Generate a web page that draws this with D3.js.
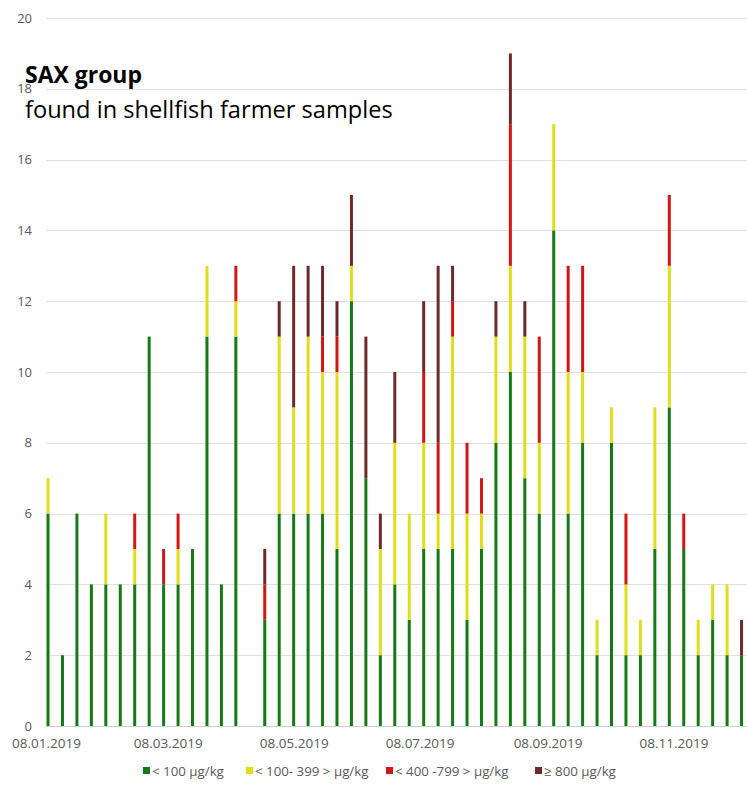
<!DOCTYPE html>
<html>
<head>
<meta charset="utf-8">
<script src="https://cdn.jsdelivr.net/npm/d3@7"></script>
<style>
  html, body { margin: 0; padding: 0; background: #fff; }
  svg { display: block; }
  text { font-family: "Open Sans", "Liberation Sans", sans-serif; }
</style>
</head>
<body>
<div id="chart"></div>
<script>
// Sampling dates (weekly, no sample in the week of 16.04.2019)
const sampleDates = [
  "2019-01-08","2019-01-15","2019-01-22","2019-01-29","2019-02-05","2019-02-12",
  "2019-02-19","2019-02-26","2019-03-05","2019-03-12","2019-03-19","2019-03-26",
  "2019-04-02","2019-04-09","2019-04-23","2019-04-30","2019-05-07","2019-05-14",
  "2019-05-21","2019-05-28","2019-06-04","2019-06-11","2019-06-18","2019-06-25",
  "2019-07-02","2019-07-09","2019-07-16","2019-07-23","2019-07-30","2019-08-06",
  "2019-08-13","2019-08-20","2019-08-27","2019-09-03","2019-09-10","2019-09-17",
  "2019-09-24","2019-10-01","2019-10-08","2019-10-15","2019-10-22","2019-10-29",
  "2019-11-05","2019-11-12","2019-11-19","2019-11-26","2019-12-03","2019-12-10"
];

// Number of samples per SAX concentration class
const below100 = [6,2,6,4,4,4,4,11,4,4,5,11,4,11,3,6,6,6,6,5,12,7,2,4,3,5,5,5,3,5,8,10,7,6,14,6,8,2,8,2,2,5,9,5,2,3,2,2];
const from100to399 = [1,0,0,0,2,0,1,0,0,1,0,2,0,1,0,5,3,5,4,5,1,0,3,4,3,3,1,6,3,1,3,3,4,2,3,4,2,1,1,2,1,4,4,0,1,1,2,0];
const from400to799 = [0,0,0,0,0,0,1,0,1,1,0,0,0,1,1,0,0,0,1,1,0,0,0,0,0,2,2,1,2,1,0,4,0,3,0,3,3,0,0,2,0,0,2,1,0,0,0,0];
const atLeast800 = [0,0,0,0,0,0,0,0,0,0,0,0,0,0,1,1,4,2,2,1,2,4,1,2,0,2,5,1,0,0,1,2,1,0,0,0,0,0,0,0,0,0,0,0,0,0,0,1];

const seriesNames = ["< 100 µg/kg", "< 100- 399 > µg/kg", "< 400 -799 > µg/kg", "≥ 800 µg/kg"];
const seriesColors = ["#157a15", "#dede1a", "#d21515", "#6e2a2a"];

const yTicks = [0, 2, 4, 6, 8, 10, 12, 14, 16, 18, 20];
const xTickDates = ["2019-01-08","2019-03-08","2019-05-08","2019-07-08","2019-09-08","2019-11-08"];

const titleText = "SAX group";
const subtitleText = "found in shellfish farmer samples";

const W = 747, H = 792;
const parse = d3.timeParse("%Y-%m-%d");
const fmt = d3.timeFormat("%d.%m.%Y");

const rows = sampleDates.map((d, i) => ({
  date: parse(d),
  s0: below100[i], s1: from100to399[i], s2: from400to799[i], s3: atLeast800[i]
}));
const keys = ["s0", "s1", "s2", "s3"];
const stacked = d3.stack().keys(keys)(rows);

const svg = d3.select("#chart").append("svg").attr("width", W).attr("height", H);

const plot = { left: 46, right: 747, top: 18, bottom: 726 };

const x = d3.scaleTime()
  .domain([parse("2019-01-08"), parse("2019-12-13")])
  .range([47, 746.7]);
const y = d3.scaleLinear().domain([0, 20]).range([plot.bottom, plot.top]);

// gridlines
svg.append("g")
  .selectAll("line")
  .data(yTicks)
  .join("line")
  .attr("x1", plot.left).attr("x2", plot.right)
  .attr("y1", d => Math.round(y(d)) + 0.5).attr("y2", d => Math.round(y(d)) + 0.5)
  .attr("stroke", d => d === 0 ? "#d0d0d0" : "#e0e0e0")
  .attr("stroke-width", 1);

// y-axis labels
const yAxis = d3.axisLeft(y).tickValues(yTicks).tickSize(0).tickPadding(0);
const gy = svg.append("g").attr("transform", "translate(32,0)").call(yAxis);
gy.select(".domain").remove();
gy.selectAll("text").attr("fill", "#595959").style("font-size", "13px")
  .style("font-family", "'Open Sans', sans-serif");

// x-axis labels
const xAxis = d3.axisBottom(x).tickValues(xTickDates.map(parse)).tickFormat(fmt).tickSize(0).tickPadding(0);
const gx = svg.append("g").attr("transform", `translate(-1,${plot.bottom + 12})`).call(xAxis);
gx.select(".domain").remove();
gx.selectAll("text").attr("fill", "#595959").style("font-size", "13.5px")
  .style("font-family", "'Open Sans', sans-serif");

// bars
const halfDay = 12 * 3600 * 1000;
const barW = 3;
svg.append("g")
  .selectAll("g")
  .data(stacked)
  .join("g")
  .attr("fill", (d, i) => seriesColors[i])
  .selectAll("rect")
  .data(d => d.filter(p => p[1] > p[0]))
  .join("rect")
  .attr("x", d => x(new Date(d.data.date.getTime() + halfDay)) - barW / 2)
  .attr("width", barW)
  .attr("y", d => y(d[1]))
  .attr("height", d => y(d[0]) - y(d[1]));

// title
function fitText(sel, targetWidth) {
  const fs = parseFloat(sel.style("font-size"));
  const w = sel.node().getComputedTextLength();
  sel.style("font-size", (fs * targetWidth / w) + "px");
}
const t1 = svg.append("text").attr("x", 25).attr("y", 83)
  .attr("fill", "#000").style("font-weight", "bold").style("font-size", "24px").text(titleText);
fitText(t1, 117);
const t2 = svg.append("text").attr("x", 25).attr("y", 118)
  .attr("fill", "#000").style("font-size", "24px").text(subtitleText);
fitText(t2, 368);

// legend
const legendX = [143, 246, 386, 535];
const lg = svg.append("g");
seriesNames.forEach((name, i) => {
  lg.append("rect").attr("x", legendX[i]).attr("y", 767).attr("width", 7).attr("height", 7)
    .attr("fill", seriesColors[i]);
  lg.append("text").attr("x", legendX[i] + 9).attr("y", 775.5)
    .attr("fill", "#595959").style("font-size", "13.3px").text(name);
});
</script>
</body>
</html>
